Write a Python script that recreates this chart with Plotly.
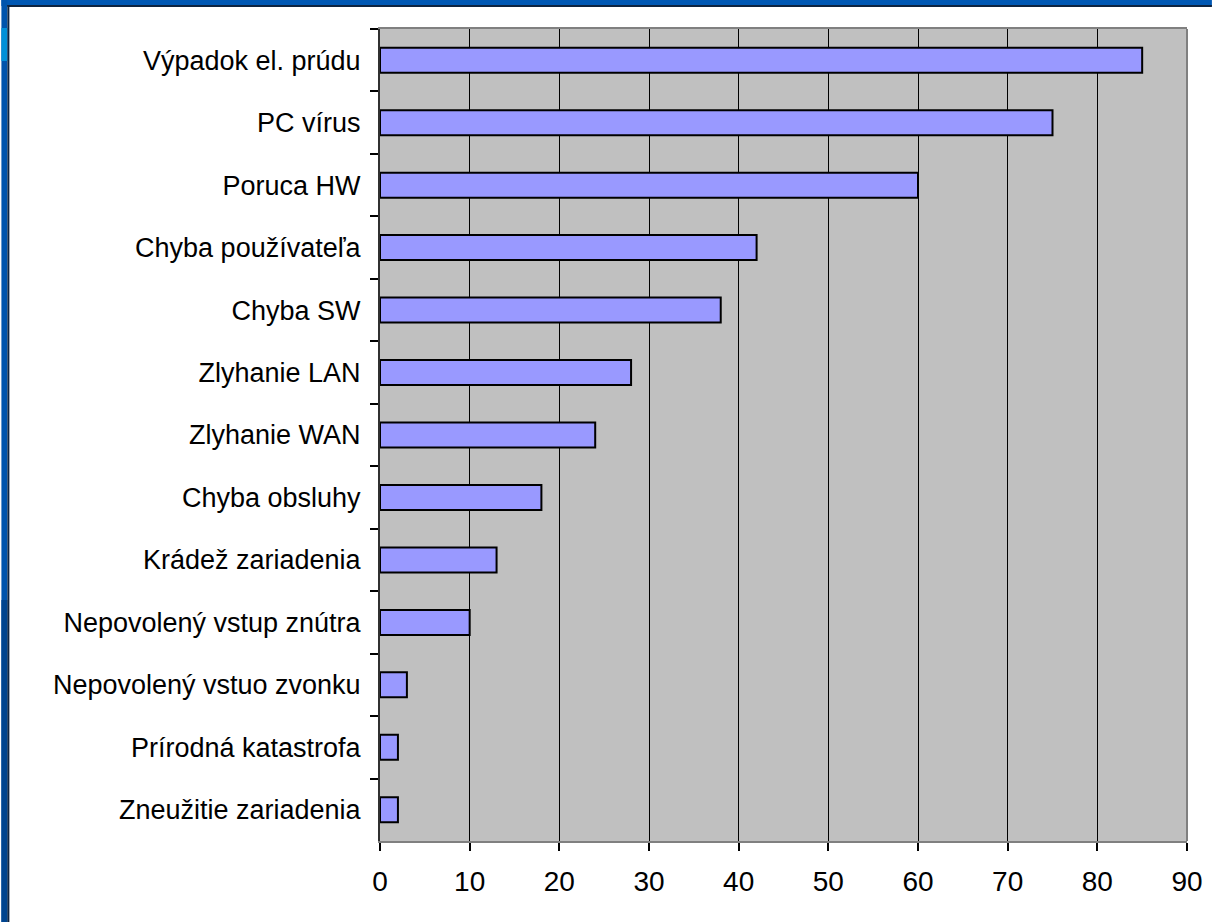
import plotly.graph_objects as go

categories = [
    "Výpadok el. prúdu",
    "PC vírus",
    "Poruca HW",
    "Chyba používateľa",
    "Chyba SW",
    "Zlyhanie LAN",
    "Zlyhanie WAN",
    "Chyba obsluhy",
    "Krádež zariadenia",
    "Nepovolený vstup znútra",
    "Nepovolený vstuo zvonku",
    "Prírodná katastrofa",
    "Zneužitie zariadenia",
]
values = [85, 75, 60, 42, 38, 28, 24, 18, 13, 10, 3, 2, 2]
x_ticks = [0, 10, 20, 30, 40, 50, 60, 70, 80, 90]

W, H = 1215, 922
L, R, T, B = 380, 25, 29, 81
PW, PH = W - L - R, H - T - B


def px(xp):
    return (xp - L) / PW


def py(yp):
    return 1 - (yp - T) / PH


fig = go.Figure(
    go.Bar(
        x=values,
        y=categories,
        orientation="h",
        marker=dict(color="#9999FF", line=dict(color="#000000", width=2)),
        hoverinfo="x+y",
    )
)

shapes = []
# blue slide frame
shapes.append(dict(type="rect", xref="paper", yref="paper", x0=px(0), x1=px(W), y0=py(0), y1=py(6),
                   fillcolor="#0058B4", line=dict(width=0), layer="above"))
shapes.append(dict(type="rect", xref="paper", yref="paper", x0=px(0), x1=px(6), y0=py(0), y1=py(H),
                   fillcolor="#0054AC", line=dict(width=0), layer="above"))
shapes.append(dict(type="rect", xref="paper", yref="paper", x0=px(0), x1=px(6), y0=py(600), y1=py(H),
                   fillcolor="#00448E", line=dict(width=0), layer="above"))
shapes.append(dict(type="rect", xref="paper", yref="paper", x0=px(0), x1=px(6), y0=py(28), y1=py(61),
                   fillcolor="#0090D8", line=dict(width=0), layer="above"))
shapes.append(dict(type="rect", xref="paper", yref="paper", x0=px(6), x1=px(W), y0=py(5), y1=py(7),
                   fillcolor="#0E2440", line=dict(width=0), layer="above"))
shapes.append(dict(type="rect", xref="paper", yref="paper", x0=px(6), x1=px(8), y0=py(5), y1=py(H),
                   fillcolor="#0E2440", line=dict(width=0), layer="above"))
# right plot border (gray)
shapes.append(dict(type="line", xref="paper", yref="paper", x0=1, x1=1, y0=0, y1=1,
                   line=dict(color="#808080", width=2), layer="above"))

fig.update_layout(
    width=W,
    height=H,
    margin=dict(l=L, r=R, t=T, b=B, pad=0),
    paper_bgcolor="#FFFFFF",
    plot_bgcolor="#C0C0C0",
    bargap=0.6,
    showlegend=False,
    shapes=shapes,
    font=dict(family="Liberation Sans, Arial, sans-serif", color="#000000"),
    xaxis=dict(
        range=[0, 90],
        tickvals=x_ticks,
        ticktext=[str(v) for v in x_ticks],
        showgrid=True,
        gridcolor="#000000",
        gridwidth=1,
        zeroline=False,
        showline=True,
        linecolor="#808080",
        linewidth=2,
        mirror=True,
        ticks="outside",
        ticklen=8,
        tickcolor="#000000",
        tickwidth=1.5,
        tickfont=dict(size=28, color="#000000"),
        ticklabelstandoff=6,
        fixedrange=True,
    ),
    yaxis=dict(
        autorange="reversed",
        type="category",
        tickson="boundaries",
        ticks="outside",
        ticklen=8,
        tickcolor="#000000",
        tickwidth=1.5,
        showgrid=False,
        showline=True,
        linecolor="#303030",
        linewidth=2,
        tickfont=dict(size=27, color="#000000"),
        ticklabelstandoff=12,
        fixedrange=True,
    ),
)

fig.write_html(
    "out.html",
    config={"displayModeBar": False},
    post_script="document.body.style.margin='0';document.body.style.overflow='hidden';",
)
